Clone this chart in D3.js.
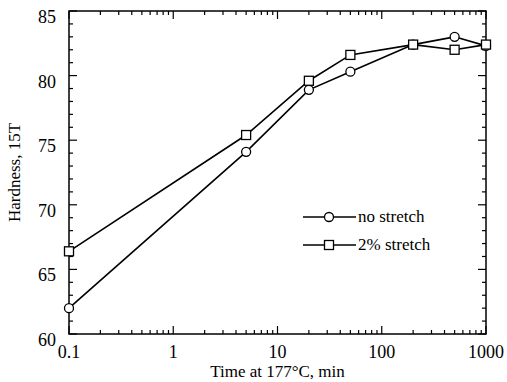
<!doctype html>
<html>
<head>
<meta charset="UTF-8">
<script src="https://d3js.org/d3.v7.min.js"></script>
<style>
  body { margin: 0; background: #fff; }
  text { font-family: "Liberation Serif", "DejaVu Serif", serif; fill: #000; }
</style>
</head>
<body>
<svg id="chart" width="507" height="382"></svg>
<script>
// data
var times = [0.1, 5, 20, 50, 200, 500, 1000];
var noStretch = [62.0, 74.1, 78.9, 80.3, 82.4, 83.0, 82.3];
var twoStretch = [66.4, 75.4, 79.6, 81.6, 82.4, 82.0, 82.4];
var xTicks = [0.1, 1, 10, 100, 1000];
var xTickLabels = ["0.1", "1", "10", "100", "1000"];
var yTicks = [60, 65, 70, 75, 80, 85];

var svg = d3.select("#chart");
var pLeft = 69, pRight = 486, pTop = 11, pBottom = 334;

var x = d3.scaleLog().domain([0.1, 1000]).range([pLeft, pRight]);
var y = d3.scaleLinear().domain([60, 85]).range([pBottom, pTop]);

// frame
svg.append("rect")
  .attr("x", pLeft).attr("y", pTop)
  .attr("width", pRight - pLeft).attr("height", pBottom - pTop)
  .attr("fill", "none").attr("stroke", "#000").attr("stroke-width", 1.5);

// x ticks (major + minor), bottom and top, inward
var xMinor = [];
[0.1, 1, 10, 100].forEach(function (d) {
  for (var k = 2; k <= 9; k++) xMinor.push(d * k);
});
var g = svg.append("g").attr("stroke", "#000").attr("stroke-width", 1.2);
xTicks.forEach(function (t) {
  g.append("line").attr("x1", x(t)).attr("x2", x(t)).attr("y1", pBottom).attr("y2", pBottom - 8);
  g.append("line").attr("x1", x(t)).attr("x2", x(t)).attr("y1", pTop).attr("y2", pTop + 8);
});
xMinor.forEach(function (t) {
  g.append("line").attr("x1", x(t)).attr("x2", x(t)).attr("y1", pBottom).attr("y2", pBottom - 4);
  g.append("line").attr("x1", x(t)).attr("x2", x(t)).attr("y1", pTop).attr("y2", pTop + 4);
});

// y ticks
for (var v = 60; v <= 85; v++) {
  var len = (v % 5 === 0) ? 8 : 4;
  g.append("line").attr("x1", pLeft).attr("x2", pLeft + len).attr("y1", y(v)).attr("y2", y(v));
  g.append("line").attr("x1", pRight).attr("x2", pRight - len).attr("y1", y(v)).attr("y2", y(v));
}

// tick labels
svg.selectAll(".xl").data(xTicks).enter().append("text")
  .attr("x", function (d) { return x(d); })
  .attr("y", pBottom + 24)
  .attr("text-anchor", "middle")
  .attr("font-size", 18)
  .text(function (d, i) { return xTickLabels[i]; });

svg.selectAll(".yl").data(yTicks).enter().append("text")
  .attr("x", pLeft - 13)
  .attr("y", function (d) { return y(d) + 12; })
  .attr("text-anchor", "end")
  .attr("font-size", 18)
  .text(function (d) { return d; });

// axis titles
svg.append("text")
  .attr("x", (pLeft + pRight) / 2).attr("y", 377)
  .attr("text-anchor", "middle").attr("font-size", 17)
  .text("Time at 177°C, min");
svg.append("text")
  .attr("transform", "translate(20," + ((pTop + pBottom) / 2) + ") rotate(-90)")
  .attr("text-anchor", "middle").attr("font-size", 17)
  .text("Hardness, 15T");

// series
var line = d3.line()
  .x(function (d) { return x(d[0]); })
  .y(function (d) { return y(d[1]); });

var s1 = times.map(function (t, i) { return [t, noStretch[i]]; });
var s2 = times.map(function (t, i) { return [t, twoStretch[i]]; });

svg.append("path").datum(s1).attr("d", line)
  .attr("fill", "none").attr("stroke", "#000").attr("stroke-width", 1.6);
svg.append("path").datum(s2).attr("d", line)
  .attr("fill", "none").attr("stroke", "#000").attr("stroke-width", 1.6);

svg.selectAll(".c").data(s1).enter().append("circle")
  .attr("cx", function (d) { return x(d[0]); })
  .attr("cy", function (d) { return y(d[1]); })
  .attr("r", 4.5)
  .attr("fill", "#fff").attr("stroke", "#000").attr("stroke-width", 1.3);

svg.selectAll(".s").data(s2).enter().append("rect")
  .attr("x", function (d) { return x(d[0]) - 4.5; })
  .attr("y", function (d) { return y(d[1]) - 4.5; })
  .attr("width", 9).attr("height", 9)
  .attr("fill", "#fff").attr("stroke", "#000").attr("stroke-width", 1.3);

// legend
var lg = svg.append("g");
var ly1 = 217, ly2 = 245, lx1 = 303, lx2 = 356, lmid = 329;
lg.append("line").attr("x1", lx1).attr("x2", lx2).attr("y1", ly1).attr("y2", ly1)
  .attr("stroke", "#000").attr("stroke-width", 1.3);
lg.append("circle").attr("cx", lmid).attr("cy", ly1).attr("r", 4.5)
  .attr("fill", "#fff").attr("stroke", "#000").attr("stroke-width", 1.3);
lg.append("text").attr("x", lx2 + 2).attr("y", ly1 + 5).attr("font-size", 17).text("no stretch");
lg.append("line").attr("x1", lx1).attr("x2", lx2).attr("y1", ly2).attr("y2", ly2)
  .attr("stroke", "#000").attr("stroke-width", 1.3);
lg.append("rect").attr("x", lmid - 4.5).attr("y", ly2 - 4.5).attr("width", 9).attr("height", 9)
  .attr("fill", "#fff").attr("stroke", "#000").attr("stroke-width", 1.3);
lg.append("text").attr("x", lx2 + 2).attr("y", ly2 + 5).attr("font-size", 17).text("2% stretch");
</script>
</body>
</html>
